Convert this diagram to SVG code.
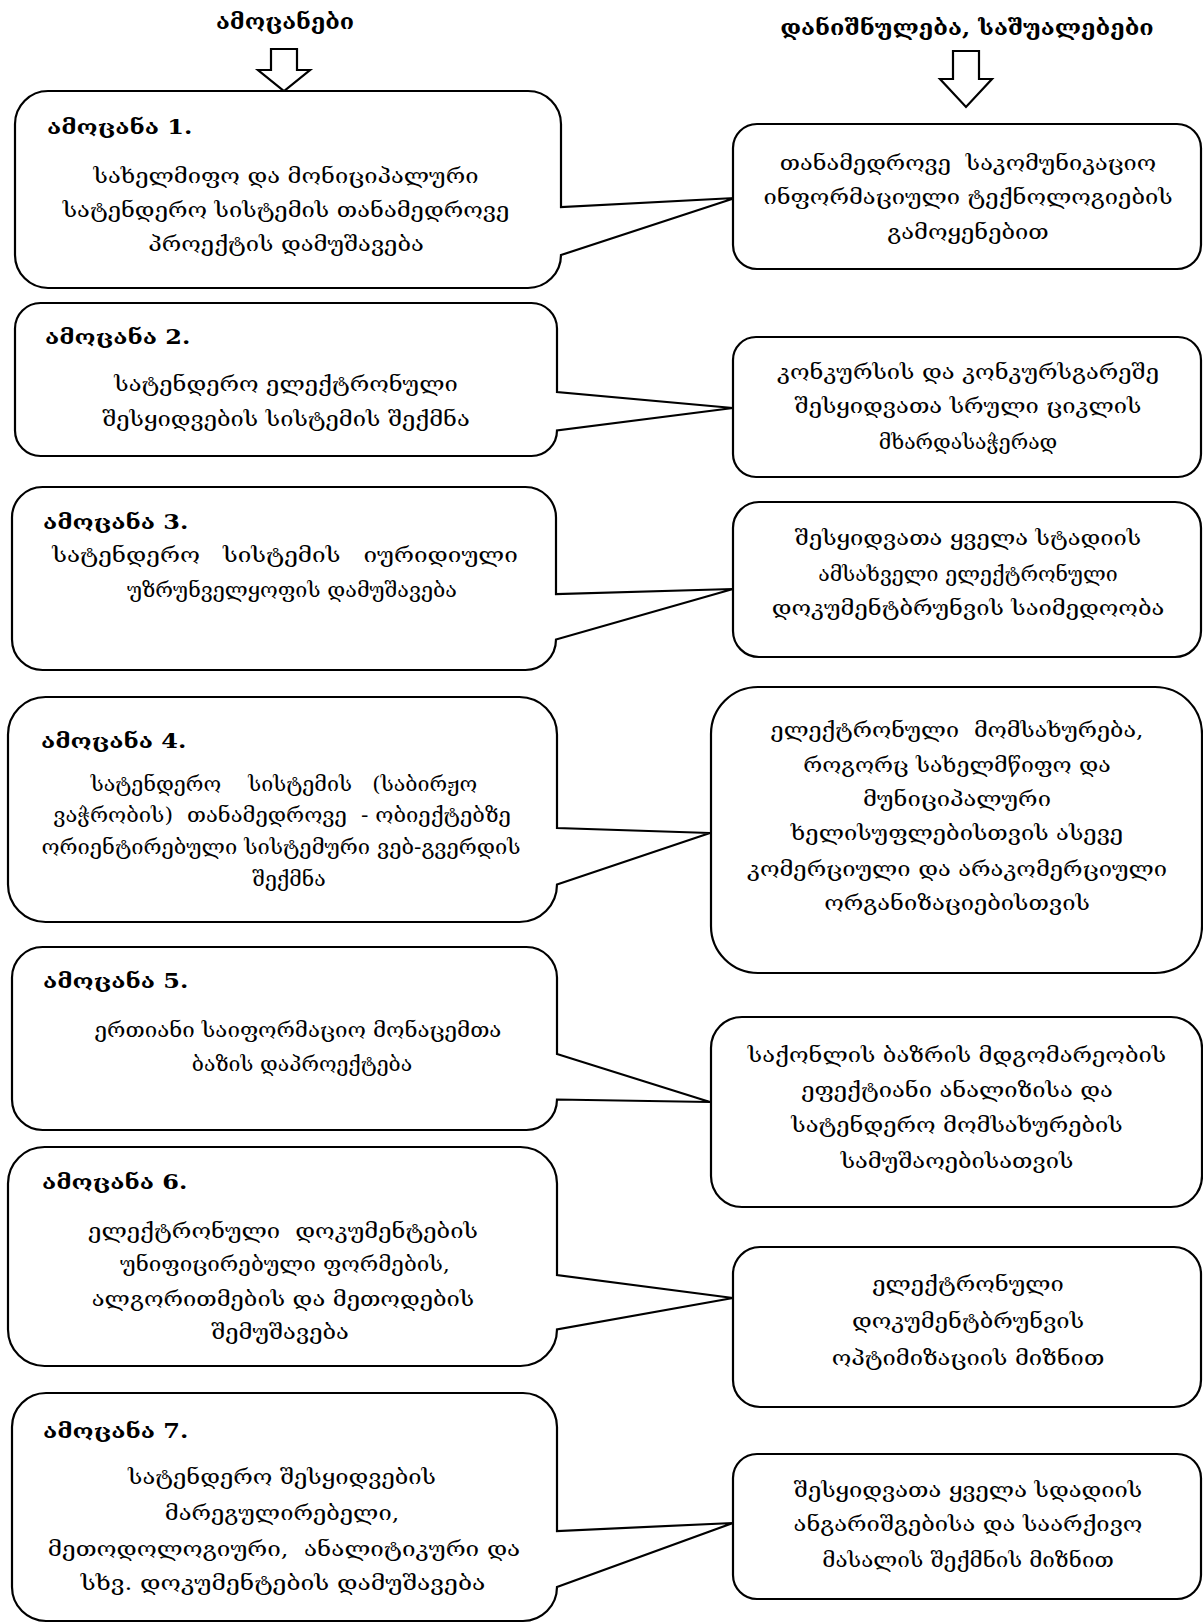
<svg xmlns="http://www.w3.org/2000/svg" width="1203" height="1624" viewBox="0 0 1203 1624">
<style>
.box{fill:#fff;stroke:#000;stroke-width:2.2;stroke-linejoin:miter}
.arr{fill:#fff;stroke:#000;stroke-width:2.2;stroke-linejoin:miter}
.t{font-family:"DejaVu Serif","DejaVu Sans",serif;font-size:21px;text-anchor:middle;fill:#000}
.h{font-family:"DejaVu Serif","DejaVu Sans",serif;font-size:20px;font-weight:bold;fill:#000}
.ti{font-family:"DejaVu Serif","DejaVu Sans",serif;font-size:21px;font-weight:bold;text-anchor:middle;fill:#000}
.pre{white-space:pre}
</style>
<rect width="1203" height="1624" fill="#fff"/>
<g id="titles">
<text class="ti" transform="matrix(1.11,0,0,1,285,0)" x="0" y="29">ამოცანები</text>
<text class="ti" transform="matrix(1.12,0,0,1,967,0)" x="0" y="35">დანიშნულება, საშუალებები</text>
</g>
<g id="connectors">
<polygon class="arr" points="271,49 297,49 297,70 310,70 284,91 258,70 271,70"/>
<polygon class="arr" points="953,51 979,51 979,79 992,79 966,107 940,79 953,79"/>
</g>
<g id="task1">
<path class="box" d="M48,91 H528 A33,33 0 0 1 561,124 V207 L735,198 L561,255 A33,33 0 0 1 528,288 H48 A33,33 0 0 1 15,255 V124 A33,33 0 0 1 48,91 Z"/>
<text class="h" transform="matrix(1.2,0,0,1,47,0)" x="0" y="134">ამოცანა 1.</text>
<text class="t" transform="matrix(1.13,0,0,1,286,0)" x="0" y="183">სახელმიფო და მონიციპალური</text>
<text class="t" transform="matrix(1.13,0,0,1,286,0)" x="0" y="217">სატენდერო სისტემის თანამედროვე</text>
<text class="t" transform="matrix(1.13,0,0,1,286,0)" x="0" y="251">პროექტის დამუშავება</text>
</g>
<g id="task2">
<path class="box" d="M40.5,303 H531.5 A25.5,25.5 0 0 1 557,328.5 V392 L733,408 L557,430.5 A25.5,25.5 0 0 1 531.5,456 H40.5 A25.5,25.5 0 0 1 15,430.5 V328.5 A25.5,25.5 0 0 1 40.5,303 Z"/>
<text class="h" transform="matrix(1.2,0,0,1,45,0)" x="0" y="344">ამოცანა 2.</text>
<text class="t" transform="matrix(1.13,0,0,1,286,0)" x="0" y="391">სატენდერო ელექტრონული</text>
<text class="t" transform="matrix(1.13,0,0,1,286,0)" x="0" y="426">შესყიდვების სისტემის შექმნა</text>
</g>
<g id="task3">
<path class="box" d="M42.5,487 H525.5 A30.5,30.5 0 0 1 556,517.5 V594 L733,589 L556,639.5 A30.5,30.5 0 0 1 525.5,670 H42.5 A30.5,30.5 0 0 1 12,639.5 V517.5 A30.5,30.5 0 0 1 42.5,487 Z"/>
<text class="h" transform="matrix(1.2,0,0,1,43,0)" x="0" y="529">ამოცანა 3.</text>
<text class="t pre" transform="matrix(1.13,0,0,1,285,0)" x="0" y="562" textLength="412" lengthAdjust="spacingAndGlyphs">სატენდერო   სისტემის   იურიდიული</text>
<text class="t" transform="matrix(1.13,0,0,1,292,0)" x="0" y="597" textLength="292" lengthAdjust="spacingAndGlyphs">უზრუნველყოფის დამუშავება</text>
</g>
<g id="task4">
<path class="box" d="M45.5,697 H519.5 A37.5,37.5 0 0 1 557,734.5 V828 L710,833 L557,884.5 A37.5,37.5 0 0 1 519.5,922 H45.5 A37.5,37.5 0 0 1 8,884.5 V734.5 A37.5,37.5 0 0 1 45.5,697 Z"/>
<text class="h" transform="matrix(1.2,0,0,1,41,0)" x="0" y="748">ამოცანა 4.</text>
<text class="t pre" transform="matrix(1.13,0,0,1,284,0)" x="0" y="791" textLength="342" lengthAdjust="spacingAndGlyphs">სატენდერო    სისტემის   (საბირჟო</text>
<text class="t pre" transform="matrix(1.13,0,0,1,282,0)" x="0" y="822" textLength="405" lengthAdjust="spacingAndGlyphs">ვაჭრობის)  თანამედროვე  - ობიექტებზე</text>
<text class="t" transform="matrix(1.13,0,0,1,281,0)" x="0" y="854" textLength="424" lengthAdjust="spacingAndGlyphs">ორიენტირებული სისტემური ვებ-გვერდის</text>
<text class="t" transform="matrix(1.13,0,0,1,289,0)" x="0" y="886" textLength="65" lengthAdjust="spacingAndGlyphs">შექმნა</text>
</g>
<g id="task5">
<path class="box" d="M42.5,947 H526.5 A30.5,30.5 0 0 1 557,977.5 V1054 L710,1102 L557,1099.5 A30.5,30.5 0 0 1 526.5,1130 H42.5 A30.5,30.5 0 0 1 12,1099.5 V977.5 A30.5,30.5 0 0 1 42.5,947 Z"/>
<text class="h" transform="matrix(1.2,0,0,1,43,0)" x="0" y="988">ამოცანა 5.</text>
<text class="t" transform="matrix(1.13,0,0,1,298,0)" x="0" y="1037" textLength="360" lengthAdjust="spacingAndGlyphs">ერთიანი საიფორმაციო მონაცემთა</text>
<text class="t" transform="matrix(1.13,0,0,1,302,0)" x="0" y="1071" textLength="195" lengthAdjust="spacingAndGlyphs">ბაზის დაპროექტება</text>
</g>
<g id="task6">
<path class="box" d="M44.5,1147 H520.5 A36.5,36.5 0 0 1 557,1183.5 V1275 L733,1298 L557,1329.5 A36.5,36.5 0 0 1 520.5,1366 H44.5 A36.5,36.5 0 0 1 8,1329.5 V1183.5 A36.5,36.5 0 0 1 44.5,1147 Z"/>
<text class="h" transform="matrix(1.2,0,0,1,42,0)" x="0" y="1189">ამოცანა 6.</text>
<text class="t pre" transform="matrix(1.13,0,0,1,283,0)" x="0" y="1238" textLength="345" lengthAdjust="spacingAndGlyphs">ელექტრონული  დოკუმენტების</text>
<text class="t" transform="matrix(1.13,0,0,1,285,0)" x="0" y="1271" textLength="292" lengthAdjust="spacingAndGlyphs">უნიფიცირებული ფორმების,</text>
<text class="t" transform="matrix(1.13,0,0,1,283,0)" x="0" y="1306">ალგორითმების და მეთოდების</text>
<text class="t" transform="matrix(1.13,0,0,1,280,0)" x="0" y="1339">შემუშავება</text>
</g>
<g id="task7">
<path class="box" d="M46,1393 H523 A34,34 0 0 1 557,1427 V1531 L733,1523 L557,1587 A34,34 0 0 1 523,1621 H46 A34,34 0 0 1 12,1587 V1427 A34,34 0 0 1 46,1393 Z"/>
<text class="h" transform="matrix(1.2,0,0,1,43,0)" x="0" y="1438">ამოცანა 7.</text>
<text class="t" transform="matrix(1.13,0,0,1,282,0)" x="0" y="1484">სატენდერო შესყიდვების</text>
<text class="t" transform="matrix(1.13,0,0,1,282,0)" x="0" y="1520">მარეგულირებელი,</text>
<text class="t pre" transform="matrix(1.13,0,0,1,284,0)" x="0" y="1556" textLength="418" lengthAdjust="spacingAndGlyphs">მეთოდოლოგიური,  ანალიტიკური და</text>
<text class="t" transform="matrix(1.13,0,0,1,283,0)" x="0" y="1590" textLength="358" lengthAdjust="spacingAndGlyphs">სხვ. დოკუმენტების დამუშავება</text>
</g>
<g id="means1">
<rect class="box" x="733" y="124" width="468" height="145" rx="24"/>
<text class="t pre" transform="matrix(1.13,0,0,1,968,0)" x="0" y="170" textLength="333" lengthAdjust="spacingAndGlyphs">თანამედროვე  საკომუნიკაციო</text>
<text class="t" transform="matrix(1.13,0,0,1,968,0)" x="0" y="204">ინფორმაციული ტექნოლოგიების</text>
<text class="t" transform="matrix(1.13,0,0,1,968,0)" x="0" y="239">გამოყენებით</text>
</g>
<g id="means2">
<rect class="box" x="733" y="337" width="468" height="140" rx="23"/>
<text class="t" transform="matrix(1.13,0,0,1,968,0)" x="0" y="379">კონკურსის და კონკურსგარეშე</text>
<text class="t" transform="matrix(1.13,0,0,1,968,0)" x="0" y="413">შესყიდვათა სრული ციკლის</text>
<text class="t" transform="matrix(1.13,0,0,1,968,0)" x="0" y="449" textLength="158" lengthAdjust="spacingAndGlyphs">მხარდასაჭერად</text>
</g>
<g id="means3">
<rect class="box" x="733" y="502" width="468" height="155" rx="26"/>
<text class="t" transform="matrix(1.13,0,0,1,968,0)" x="0" y="545">შესყიდვათა ყველა სტადიის</text>
<text class="t" transform="matrix(1.13,0,0,1,968,0)" x="0" y="581" textLength="265" lengthAdjust="spacingAndGlyphs">ამსახველი ელექტრონული</text>
<text class="t" transform="matrix(1.13,0,0,1,968,0)" x="0" y="615">დოკუმენტბრუნვის საიმედოობა</text>
</g>
<g id="means4">
<rect class="box" x="711" y="687" width="491" height="286" rx="47"/>
<text class="t pre" transform="matrix(1.13,0,0,1,957,0)" x="0" y="737" textLength="330" lengthAdjust="spacingAndGlyphs">ელექტრონული  მომსახურება,</text>
<text class="t" transform="matrix(1.13,0,0,1,957,0)" x="0" y="772" textLength="272" lengthAdjust="spacingAndGlyphs">როგორც სახელმწიფო და</text>
<text class="t" transform="matrix(1.13,0,0,1,957,0)" x="0" y="806">მუნიციპალური</text>
<text class="t" transform="matrix(1.13,0,0,1,957,0)" x="0" y="840">ხელისუფლებისთვის ასევე</text>
<text class="t" transform="matrix(1.13,0,0,1,957,0)" x="0" y="876">კომერციული და არაკომერციული</text>
<text class="t" transform="matrix(1.13,0,0,1,957,0)" x="0" y="910">ორგანიზაციებისთვის</text>
</g>
<g id="means5">
<rect class="box" x="711" y="1017" width="491" height="190" rx="31"/>
<text class="t" transform="matrix(1.13,0,0,1,957,0)" x="0" y="1062">საქონლის ბაზრის მდგომარეობის</text>
<text class="t" transform="matrix(1.13,0,0,1,957,0)" x="0" y="1097">ეფექტიანი ანალიზისა და</text>
<text class="t" transform="matrix(1.13,0,0,1,957,0)" x="0" y="1132">სატენდერო მომსახურების</text>
<text class="t" transform="matrix(1.13,0,0,1,957,0)" x="0" y="1168">სამუშაოებისათვის</text>
</g>
<g id="means6">
<rect class="box" x="733" y="1247" width="468" height="160" rx="27"/>
<text class="t" transform="matrix(1.13,0,0,1,968,0)" x="0" y="1291">ელექტრონული</text>
<text class="t" transform="matrix(1.13,0,0,1,968,0)" x="0" y="1328">დოკუმენტბრუნვის</text>
<text class="t" transform="matrix(1.13,0,0,1,968,0)" x="0" y="1365">ოპტიმიზაციის მიზნით</text>
</g>
<g id="means7">
<rect class="box" x="733" y="1454" width="468" height="145" rx="24"/>
<text class="t" transform="matrix(1.13,0,0,1,968,0)" x="0" y="1497">შესყიდვათა ყველა სდადიის</text>
<text class="t" transform="matrix(1.13,0,0,1,968,0)" x="0" y="1531">ანგარიშგებისა და საარქივო</text>
<text class="t" transform="matrix(1.13,0,0,1,968,0)" x="0" y="1567" textLength="258" lengthAdjust="spacingAndGlyphs">მასალის შექმნის მიზნით</text>
</g>
</svg>
